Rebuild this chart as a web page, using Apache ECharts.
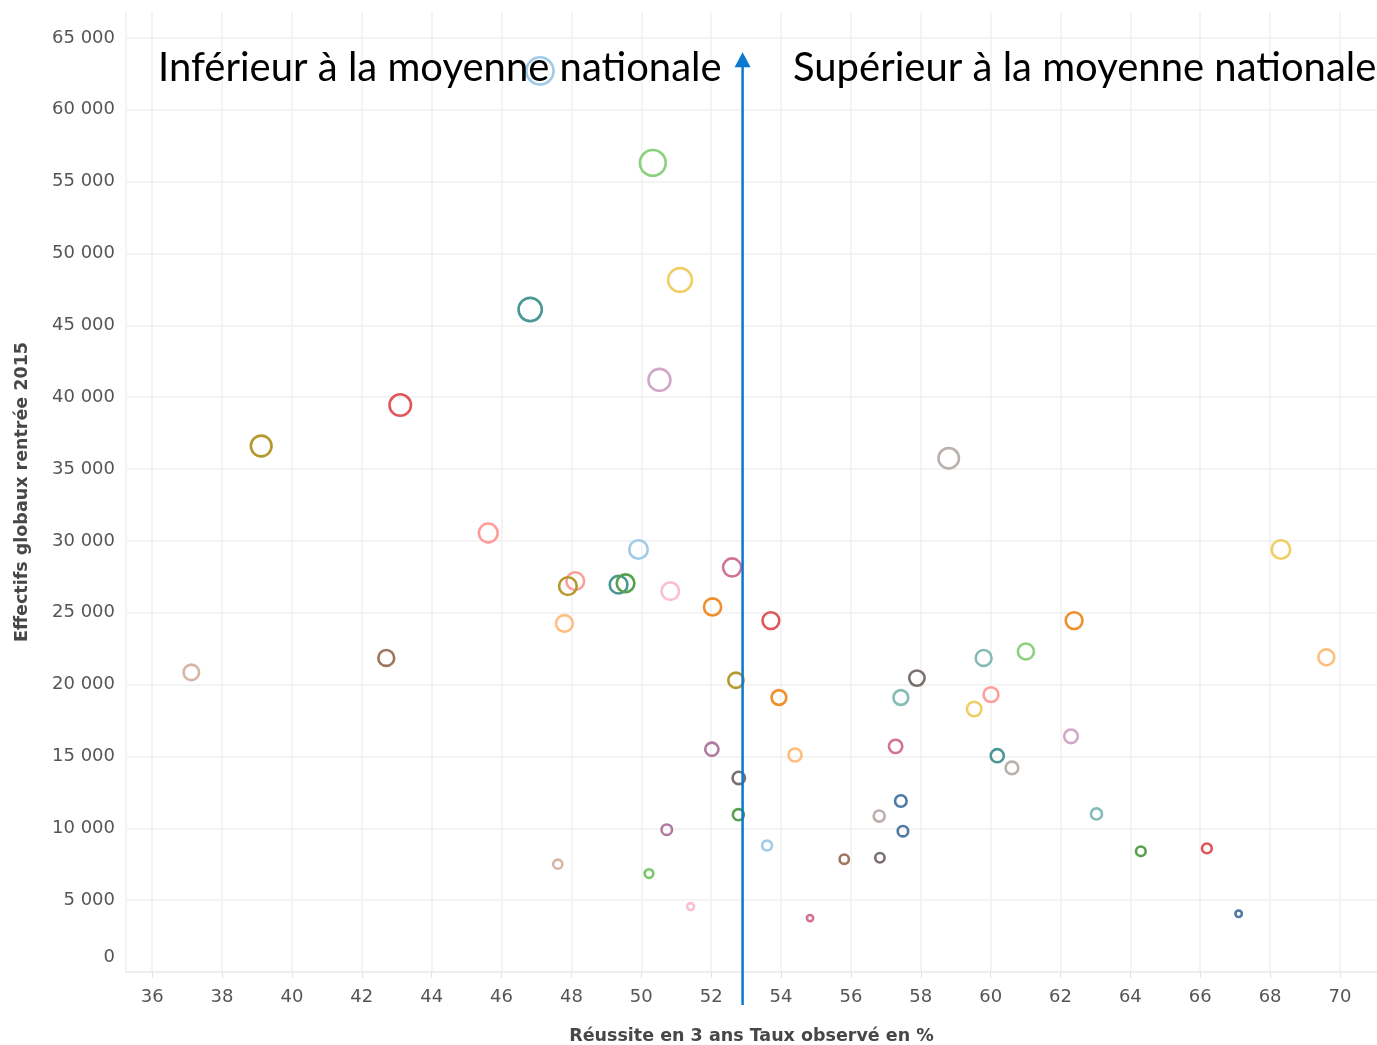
<!DOCTYPE html>
<html>
<head>
<meta charset="utf-8">
<script src="https://cdn.jsdelivr.net/npm/echarts@6/dist/echarts.min.js"></script>
<style>
  html, body { margin: 0; padding: 0; background: #fff; }
  #chart { width: 1377px; height: 1045px; }
</style>
</head>
<body>
<div id="chart"></div>
<script>
// taux de réussite en 3 ans (%) par point
const rates = [
  47.10, 50.33, 51.11, 46.82, 50.52, 43.10, 39.12, 58.80, 45.62, 49.92,
  68.31, 52.60, 48.11, 47.90, 49.35, 49.55, 50.83, 52.04, 53.71, 47.80,
  62.39, 37.12, 42.70, 69.61, 59.80, 61.01, 57.89, 52.71, 53.94, 57.43,
  60.01, 59.53, 52.02, 54.40, 57.28, 62.30, 60.19, 60.61, 52.79, 57.43,
  56.81, 52.78, 63.03, 50.73, 57.49, 53.60, 55.81, 56.83, 47.61, 50.22,
  64.30, 66.19, 51.41, 54.83, 67.10
];
// effectifs globaux rentrée 2015
const effectifs = [
  62700, 56300, 48150, 46100, 41200, 39450, 36600, 35750, 30550, 29400,
  29400, 28150, 27200, 26850, 26950, 27050, 26500, 25400, 24450, 24250,
  24450, 20850, 21850, 21900, 21850, 22300, 20450, 20300, 19100, 19100,
  19300, 18300, 15500, 15100, 15700, 16400, 15050, 14200, 13500, 11900,
  10850, 10950, 11000, 9900, 9800, 8800, 7850, 7950, 7500, 6850,
  8400, 8600, 4550, 3750, 4050
];
// couleur de chaque cercle
const pointColors = [
  '#A0CBE8', '#8CD17D', '#F1CE63', '#499894', '#D4A6C8', '#E15759', '#B6992D', '#BAB0AC', '#FF9D9A', '#A0CBE8',
  '#F1CE63', '#D37295', '#FF9D9A', '#B6992D', '#499894', '#59A14F', '#FABFD2', '#F28E2B', '#E15759', '#FFBE7D',
  '#F28E2B', '#D7B5A6', '#9D7660', '#FFBE7D', '#86BCB6', '#8CD17D', '#79706E', '#B6992D', '#F28E2B', '#86BCB6',
  '#FF9D9A', '#F1CE63', '#B07AA1', '#FFBE7D', '#D37295', '#D4A6C8', '#499894', '#BAB0AC', '#79706E', '#4E79A7',
  '#BAB0AC', '#59A14F', '#86BCB6', '#B07AA1', '#4E79A7', '#A0CBE8', '#9D7660', '#79706E', '#D7B5A6', '#7BC86C',
  '#59A14F', '#E15759', '#FABFD2', '#D37295', '#4E79A7'
];

const xTicks = [36, 38, 40, 42, 44, 46, 48, 50, 52, 54, 56, 58, 60, 62, 64, 66, 68, 70];
const yTicks = [0, 5000, 10000, 15000, 20000, 25000, 30000, 35000, 40000, 45000, 50000, 55000, 60000, 65000];

const NATIONAL_AVG = 52.9;
const ARROW_TOP = 64000;
const ARROW_BOTTOM = -2300;

const LABEL_FONT = '"DejaVu Sans", sans-serif';
const NOTE_FONT = 'Lato, sans-serif';

const chart = echarts.init(document.getElementById('chart'), null, { renderer: 'canvas' });

const points = rates.map((r, i) => ({
  value: [r, effectifs[i]],
  itemStyle: { borderColor: pointColors[i] }
}));

function fmtThousands(v) {
  if (v === 0) return '{z|0}';
  return (v / 1000) + ' 000';
}

chart.setOption({
  backgroundColor: '#ffffff',
  animation: false,
  grid: { left: 126, right: 0, top: 12, bottom: 73, outerBoundsMode: 'none' },
  xAxis: {
    type: 'value',
    min: 35.25,
    max: 71.06,
    name: 'Réussite en 3 ans Taux observé en %',
    nameLocation: 'middle',
    nameGap: 55,
    nameTextStyle: { color: '#474747', fontSize: 17.5, fontWeight: 'bold', fontFamily: LABEL_FONT },
    axisLine: { show: true, lineStyle: { color: '#ececec', width: 1.5 } },
    axisTick: { show: true, length: 6, customValues: xTicks, lineStyle: { color: '#e2e2e2' } },
    axisLabel: { customValues: xTicks, color: '#555', fontSize: 18, fontFamily: LABEL_FONT, margin: 16 },
    splitLine: { show: true, lineStyle: { color: '#f0f0f0', width: 1.5 } }
  },
  yAxis: {
    type: 'value',
    min: 0,
    max: 66800,
    name: 'Effectifs globaux rentrée 2015',
    nameLocation: 'middle',
    nameGap: 95,
    nameRotate: 90,
    nameTextStyle: { color: '#474747', fontSize: 17.5, fontWeight: 'bold', fontFamily: LABEL_FONT },
    axisLine: { show: true, lineStyle: { color: '#f0f0f0', width: 1.5 } },
    axisTick: { show: false, customValues: yTicks },
    axisLabel: {
      customValues: yTicks,
      color: '#555',
      fontSize: 18,
      fontFamily: LABEL_FONT,
      margin: 11,
      verticalAlignMinLabel: 'bottom',
      formatter: fmtThousands,
      rich: {
        z: { color: '#555', fontSize: 18, fontFamily: LABEL_FONT, padding: [0, 0, 6, 0] }
      }
    },
    splitLine: { show: true, lineStyle: { color: '#f0f0f0', width: 1.5 } }
  },
  series: [{
    type: 'scatter',
    data: points,
    symbol: 'circle',
    symbolSize: (val) => 3.5 * Math.sqrt(val[1] / 1000) - 0.5,
    itemStyle: { color: 'rgba(0,0,0,0)', borderWidth: 2.6, opacity: 1 },
    emphasis: { disabled: true }
  }]
});

// flèche de la moyenne nationale + annotations
const ax = chart.convertToPixel({ xAxisIndex: 0 }, NATIONAL_AVG);
const yTip = chart.convertToPixel({ yAxisIndex: 0 }, ARROW_TOP);
const yBase = chart.convertToPixel({ yAxisIndex: 0 }, ARROW_BOTTOM);

chart.setOption({
  graphic: [
    {
      type: 'line', z: 100,
      shape: { x1: ax, y1: yBase, x2: ax, y2: yTip + 12 },
      style: { stroke: '#0a78cf', lineWidth: 2.5 }
    },
    {
      type: 'polygon', z: 100,
      shape: { points: [[ax - 8, yTip + 15], [ax + 8, yTip + 15], [ax, yTip]] },
      style: { fill: '#0a78cf' }
    },
    {
      type: 'text', z: 90, left: 158, top: 48,
      style: { text: 'Inférieur à la moyenne nationale', font: '40px ' + NOTE_FONT, fill: '#000' }
    },
    {
      type: 'text', z: 90, left: 793, top: 48,
      style: { text: 'Supérieur à la moyenne nationale', font: '40px ' + NOTE_FONT, fill: '#000' }
    }
  ]
});
</script>
</body>
</html>
